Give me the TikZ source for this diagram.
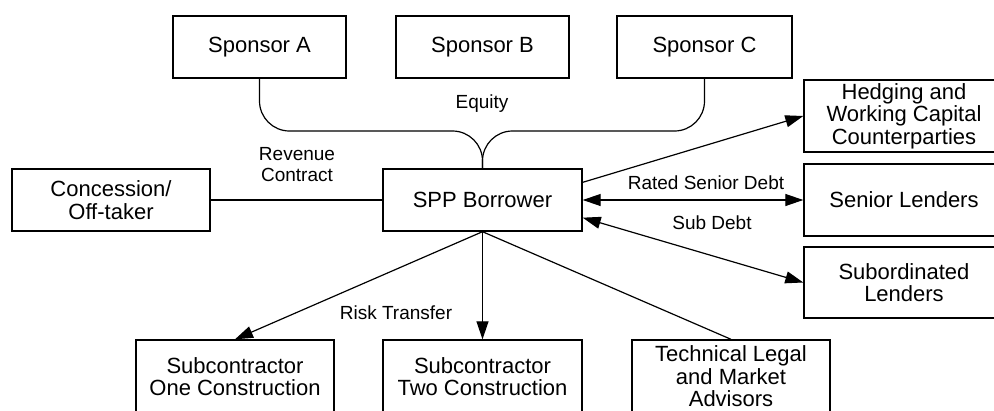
\documentclass[tikz,border=0pt]{standalone}
\usepackage{fontspec}
\setmainfont{Liberation Sans}
\usetikzlibrary{arrows.meta}
\tikzset{
  box/.style={draw=black, line width=1.4pt, inner sep=0pt, align=center,
    font=\fontsize{22}{22.5}\selectfont},
  lbl/.style={inner sep=0pt, align=center, font=\fontsize{19}{21}\selectfont},
  conn/.style={draw=black, line width=1.2pt},
  arr/.style={conn, -{Triangle[length=18pt,width=12pt]}},
  darr/.style={conn, {Triangle[length=18pt,width=12pt]}-{Triangle[length=18pt,width=12pt]}}
}
\begin{document}
\begin{tikzpicture}[x=1pt,y=-1pt]
\useasboundingbox (0,0) rectangle (994,410);
\fill[white] (0,0) rectangle (994,410);
% boxes
\node[box, minimum width=173pt, minimum height=62pt] (spA) at (259.5,47) {Sponsor A};
\node[box, minimum width=173pt, minimum height=62pt] (spB) at (482.5,47) {Sponsor B};
\node[box, minimum width=175pt, minimum height=62pt] (spC) at (704.5,47) {Sponsor C};
\node[box, minimum width=200pt, minimum height=72pt] (hedge) at (904,116) {Hedging and\\Working Capital\\Counterparties};
\node[box, minimum width=200pt, minimum height=72pt] (senior) at (904,200) {Senior Lenders};
\node[box, minimum width=200pt, minimum height=71pt] (subord) at (904,282.5) {Subordinated\\Lenders};
\node[box, minimum width=199pt, minimum height=62pt] (spp) at (482.5,200) {SPP Borrower};
\node[box, minimum width=198pt, minimum height=62pt] (conc) at (111,200) {Concession/\\Off-taker};
\node[box, minimum width=198pt, minimum height=73pt] (sub1) at (235,376.5) {Subcontractor\\One Construction};
\node[box, minimum width=199pt, minimum height=73pt] (sub2) at (482.5,376.5) {Subcontractor\\Two Construction};
\node[box, minimum width=198pt, minimum height=73pt] (tech) at (731,376.5) {Technical Legal\\and Market\\Advisors};
% equity
\coordinate (eqjoin) at (482.5,131);
\draw[conn, rounded corners=30pt] (spA.south) |- (eqjoin) -- (spp.north);
\draw[conn, rounded corners=30pt] (spC.south) |- (eqjoin) -- (spp.north);
% connectors
\draw[conn] (conc.east) -- (spp.west);
\draw[arr] (spp.10) -- (hedge.west);
\draw[darr] (spp.east) -- (senior.west);
\draw[darr] (spp.-10) -- (subord.west);
\draw[arr] (spp.south) -- (sub1.north);
\draw[arr] (spp.south) -- (sub2.north);
\draw[conn] (spp.south) -- (tech.north);
% labels
\node[lbl] (lEq) at (482,104) {Equity};
\node[lbl] (lRev) at (297,165) {Revenue\\Contract};
\node[lbl] (lRsd) at (706,183) {Rated Senior Debt};
\node[lbl] (lSub) at (712,223) {Sub Debt};
\node[lbl] (lRisk) at (396,313) {Risk Transfer};
\end{tikzpicture}
\end{document}
